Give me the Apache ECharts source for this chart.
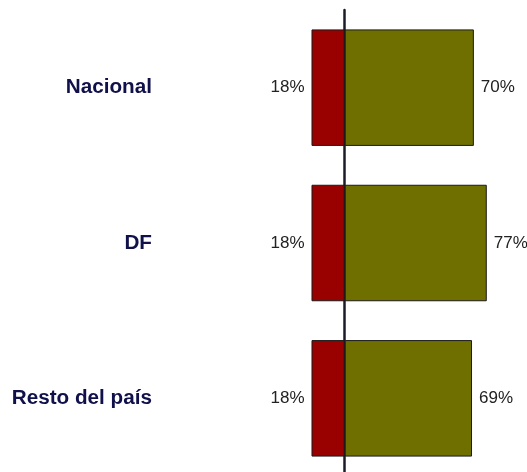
<!DOCTYPE html>
<html>
<head>
<meta charset="utf-8">
<style>
  html, body { margin: 0; padding: 0; background: #fff; }
  #main { width: 527px; height: 472px; }
</style>
<script src="https://cdn.jsdelivr.net/npm/echarts@6/dist/echarts.min.js"></script>
</head>
<body>
<div id="main"></div>
<script>
// regiones y porcentajes
const categorias = ["Nacional", "DF", "Resto del país"];
const negativos = [18, 18, 18];
const positivos = [70, 77, 69];

const chart = echarts.init(document.getElementById("main"));

chart.setOption({
    animation: false,
    grid: { left: 234, right: 7, top: 10, height: 466, outerBoundsMode: "none" },
    xAxis: {
        type: "value",
        min: -60,
        max: 95,
        show: false
    },
    yAxis: {
        type: "category",
        data: categorias,
        inverse: true,
        axisLine: { onZero: true, lineStyle: { color: "#1c1c28", width: 2.5 } },
        axisTick: { show: false },
        axisLabel: {
            margin: 82,
            color: "#10104a",
            fontWeight: "bold",
            fontSize: 20.7,
            fontFamily: "Liberation Sans, Arial, sans-serif"
        }
    },
    series: [
        {
            name: "neg",
            type: "bar",
            stack: "total",
            barCategoryGap: "25%",
            data: negativos.map(v => -v),
            itemStyle: { color: "#990000", borderColor: "#1a1a1a", borderWidth: 1 },
            label: {
                show: true,
                position: "left",
                distance: 7,
                color: "#222",
                fontSize: 17,
                fontFamily: "Liberation Sans, Arial, sans-serif",
                formatter: p => Math.abs(p.value) + "%"
            }
        },
        {
            name: "pos",
            type: "bar",
            stack: "total",
            barCategoryGap: "25%",
            data: positivos,
            itemStyle: { color: "#6f6f00", borderColor: "#1a1a1a", borderWidth: 1 },
            label: {
                show: true,
                position: "right",
                distance: 7,
                color: "#222",
                fontSize: 17,
                fontFamily: "Liberation Sans, Arial, sans-serif",
                formatter: "{c}%"
            }
        }
    ]
});
</script>
</body>
</html>
